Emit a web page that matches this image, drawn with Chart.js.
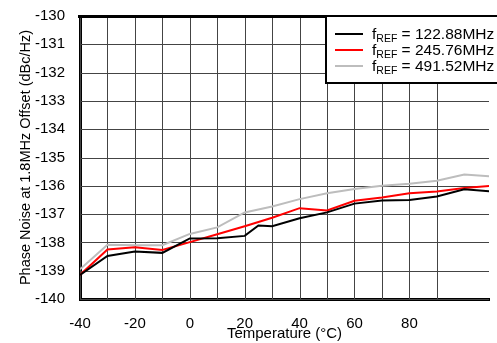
<!DOCTYPE html>
<html><head><meta charset="utf-8">
<script src="https://cdn.jsdelivr.net/npm/chart.js@4/dist/chart.umd.min.js"></script>
<style>
html,body{margin:0;padding:0;background:#fff;overflow:hidden;width:497px;height:343px;}
#wrap{position:absolute;left:0;top:0;width:497px;height:343px;}
</style></head>
<body>
<div id="wrap"><canvas id="c" width="497" height="343"></canvas></div>
<script>
// Temperature points (°C)
const tempsBlack = [-40,-30,-20,-10,0,10,20,25,30,40,50,60,70,80,90,100,110];
const temps = [-40,-30,-20,-10,0,10,20,30,40,50,60,70,80,90,100,110];
// Phase noise (dBc/Hz)
const fref122 = [-139.15,-138.48,-138.32,-138.37,-137.86,-137.85,-137.77,-137.4,-137.43,-137.15,-136.94,-136.63,-136.52,-136.5,-136.38,-136.12,-136.2];
const fref245 = [-139.15,-138.25,-138.17,-138.27,-137.99,-137.71,-137.43,-137.13,-136.79,-136.87,-136.53,-136.41,-136.26,-136.2,-136.08,-136.0];
const fref491 = [-138.95,-138.08,-138.1,-138.1,-137.7,-137.47,-136.94,-136.73,-136.47,-136.26,-136.11,-136.0,-135.93,-135.82,-135.6,-135.67];
const legendLabels = ['122.88MHz','245.76MHz','491.52MHz'];
const colors = ['#000000','#ff0000','#bdbdbd'];

const FONT = '"Liberation Sans", Arial, Helvetica, sans-serif';
const GRID = '#444444';
const pts = (xs, ys) => xs.map((x,i)=>({x, y: ys[i]}));

// grid drawn from the scales' own ticks, as 1px filled rectangles
const gridPlugin = {
  id:'tickGrid',
  beforeDatasetsDraw(chart){
    const ctx = chart.ctx, a = chart.chartArea, sx = chart.scales.x, sy = chart.scales.y;
    ctx.save();
    ctx.fillStyle = GRID;
    sx.ticks.forEach(t => {
      if (t.value % 10 !== 0) return;
      const p = Math.round(sx.getPixelForValue(t.value));
      ctx.fillRect(p, a.top, 1, a.bottom - a.top);
    });
    sy.ticks.forEach(t => {
      const p = Math.round(sy.getPixelForValue(t.value));
      ctx.fillRect(a.left, p, a.right - a.left, 1);
    });
    ctx.restore();
  }
};

const legendPlugin = {
  id:'customLegend',
  afterDraw(chart){
    const ctx = chart.ctx, a = chart.chartArea;
    ctx.save();
    ctx.fillStyle='#000';
    ctx.fillRect(a.left-2, a.top-1, a.right - a.left + 2, 3);
    const bx = a.left + 246, by = a.top, bw = a.right - bx + 10, bh = 67;
    ctx.fillStyle='#fff'; ctx.fillRect(bx, by, bw, bh);
    ctx.strokeStyle='#000'; ctx.lineWidth=2; ctx.strokeRect(bx, by, bw, bh);
    for(let i=0;i<3;i++){
      const y = by + 18 + i*15.8;
      ctx.fillStyle = colors[i];
      ctx.fillRect(bx+9, Math.round(y)-1, 28, 2);
      ctx.fillStyle='#000'; ctx.textBaseline='alphabetic'; ctx.textAlign='left';
      let x = bx+46;
      ctx.font = '15.5px '+FONT;
      ctx.fillText('f', x, y+5); x += ctx.measureText('f').width;
      ctx.font = '10.5px '+FONT;
      ctx.fillText('REF', x, y+8); x += ctx.measureText('REF').width;
      ctx.font = '15.5px '+FONT;
      ctx.fillText(' = '+legendLabels[i], x, y+5);
    }
    ctx.restore();
  }
};

new Chart(document.getElementById('c'), {
  type:'line',
  data:{datasets:[
    {label:'fREF = '+legendLabels[0], data: pts(tempsBlack, fref122), borderColor:colors[0], borderWidth:2, pointRadius:0, tension:0, order:1},
    {label:'fREF = '+legendLabels[1], data: pts(temps, fref245), borderColor:colors[1], borderWidth:2, pointRadius:0, tension:0, order:2},
    {label:'fREF = '+legendLabels[2], data: pts(temps, fref491), borderColor:colors[2], borderWidth:2, pointRadius:0, tension:0, order:3}
  ]},
  options:{
    responsive:false, animation:false,
    layout:{padding:{left:17,right:0,top:10,bottom:0}},
    plugins:{legend:{display:false}, tooltip:{enabled:false}},
    scales:{
      x:{type:'linear', min:-40, max:109,
        ticks:{stepSize:10, autoSkip:false, maxRotation:0, padding:8, color:'#000', font:{family:FONT,size:15},
          callback:(v)=> (v%20===0 && v<=100) ? String(v) : ''},
        grid:{display:false},
        border:{color:'#000', width:3},
        title:{display:true, text:'Temperature (°C)', color:'#000', font:{family:FONT,size:15}, padding:{top:0,bottom:0}},
        afterFit(s){ s.height = 44; }
      },
      y:{type:'linear', min:-140, max:-130,
        ticks:{stepSize:1, color:'#000', padding:7, font:{family:FONT,size:15}},
        grid:{display:false},
        border:{color:'#000', width:3},
        title:{display:true, text:'Phase Noise at 1.8MHz Offset (dBc/Hz)', color:'#000', font:{family:FONT,size:14.5}, padding:{top:0,bottom:0}},
        afterFit(s){ s.width = 63; }
      }
    }
  },
  plugins:[gridPlugin, legendPlugin]
});
</script>
</body></html>
